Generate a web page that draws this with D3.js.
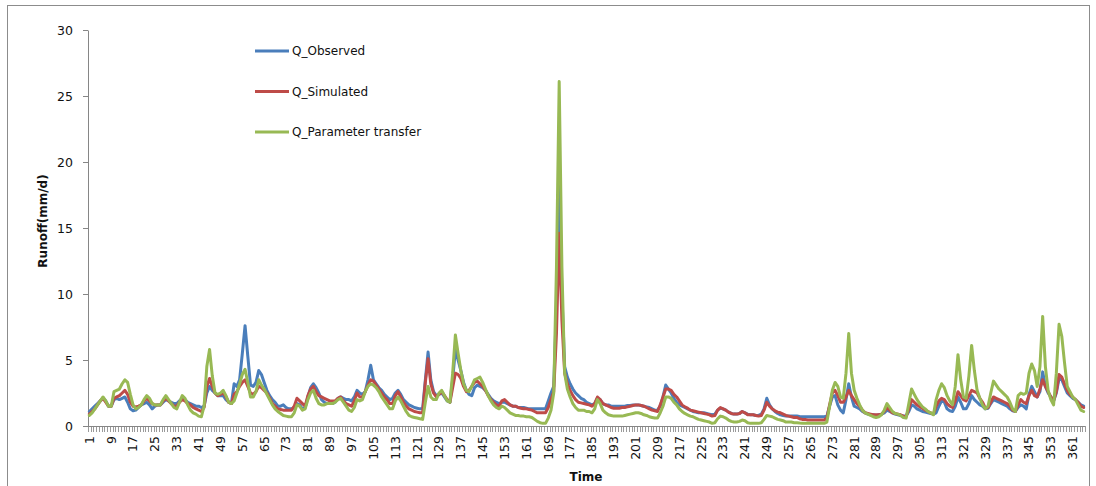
<!DOCTYPE html>
<html>
<head>
<meta charset="utf-8">
<script src="https://cdn.jsdelivr.net/npm/d3@7"></script>
<style>
  body { margin: 0; background: #fff; }
  svg { display: block; }
</style>
</head>
<body>
<div id="chart"></div>
<script>
// daily runoff (mm/d), days 1..365
const observed = [
  1.1,1.3,1.5,1.7,1.9,2.1,1.9,1.5,1.5,2.0,
  2.1,2.0,2.1,2.2,1.8,1.3,1.15,1.2,1.4,1.6,
  1.7,1.8,1.6,1.3,1.5,1.6,1.6,1.8,2.0,1.9,
  1.8,1.7,1.7,1.9,2.1,2.0,1.8,1.7,1.6,1.5,
  1.5,1.4,1.5,2.5,3.0,2.7,2.5,2.3,2.3,2.3,
  2.0,1.8,1.7,3.2,3.0,3.5,5.5,7.6,5.3,3.1,
  3.0,3.3,4.2,3.9,3.3,2.7,2.3,2.0,1.8,1.5,
  1.5,1.6,1.4,1.3,1.3,1.4,1.7,1.6,1.3,1.4,
  2.2,2.9,3.2,2.9,2.5,2.0,1.8,1.7,1.7,1.7,
  1.8,2.1,2.2,2.1,2.0,2.0,1.9,2.2,2.7,2.5,
  2.4,2.6,3.5,4.6,3.5,3.2,2.9,2.7,2.4,2.2,
  2.0,2.1,2.5,2.7,2.4,2.0,1.8,1.6,1.5,1.4,
  1.35,1.3,1.3,3.5,5.6,3.5,2.6,2.3,2.4,2.5,
  2.2,1.9,1.8,3.5,5.8,5.0,4.2,3.3,2.7,2.4,
  2.3,2.9,3.1,3.0,2.9,2.7,2.4,2.1,1.9,1.8,
  1.7,1.8,1.8,1.7,1.6,1.5,1.5,1.4,1.4,1.4,
  1.35,1.3,1.3,1.3,1.3,1.3,1.3,1.3,1.9,2.5,
  3.0,9.0,19.0,10.0,4.5,3.7,3.2,2.8,2.5,2.3,
  2.1,2.0,1.8,1.7,1.6,1.7,2.1,2.0,1.7,1.6,
  1.6,1.5,1.5,1.5,1.5,1.5,1.5,1.55,1.55,1.6,
  1.6,1.6,1.55,1.5,1.45,1.4,1.3,1.2,1.2,1.5,
  2.2,3.1,2.8,2.5,2.1,1.8,1.6,1.5,1.4,1.3,
  1.2,1.1,1.05,1.0,1.0,1.0,0.95,0.9,0.85,0.9,
  1.2,1.35,1.3,1.2,1.05,0.95,0.9,0.9,0.95,1.1,
  1.0,0.9,0.85,0.85,0.8,0.8,0.9,1.3,2.1,1.6,
  1.3,1.1,0.95,0.85,0.8,0.75,0.75,0.75,0.75,0.75,
  0.72,0.7,0.7,0.7,0.7,0.7,0.7,0.7,0.7,0.7,
  0.75,1.5,2.2,2.3,1.6,1.2,1.0,2.0,3.2,2.2,
  1.5,1.4,1.3,1.1,1.0,0.9,0.85,0.85,0.8,0.85,
  0.9,1.0,1.2,1.1,1.0,0.9,0.85,0.8,0.75,0.75,
  1.1,1.6,1.5,1.3,1.2,1.1,1.05,1.0,0.95,0.9,
  1.0,1.5,1.9,1.8,1.3,1.15,1.1,1.5,2.2,1.8,
  1.3,1.3,1.7,2.3,2.0,1.8,1.6,1.5,1.3,1.35,
  1.7,2.0,1.9,1.8,1.7,1.6,1.5,1.3,1.15,1.1,
  1.4,1.6,1.5,1.3,2.4,3.0,2.6,2.2,2.6,4.1,
  3.0,2.5,2.2,1.9,2.5,3.6,3.5,3.0,2.5,2.3,
  2.1,2.0,1.8,1.6,1.5
];

const simulated = [
  0.9,1.1,1.3,1.6,1.9,2.1,1.8,1.5,1.5,2.1,
  2.2,2.3,2.5,2.7,2.4,1.8,1.5,1.45,1.5,1.6,
  1.9,2.1,1.9,1.7,1.6,1.6,1.6,1.9,2.1,1.9,
  1.7,1.5,1.5,1.8,2.0,1.9,1.7,1.6,1.4,1.3,
  1.2,1.1,1.4,3.0,3.6,3.0,2.5,2.3,2.4,2.5,
  2.2,1.8,1.7,2.4,2.6,3.0,3.3,3.5,3.0,2.5,
  2.4,2.6,3.0,2.9,2.7,2.5,2.1,1.7,1.5,1.3,
  1.25,1.2,1.2,1.2,1.2,1.5,2.1,1.9,1.7,1.5,
  2.3,2.8,3.0,2.6,2.3,2.2,2.1,2.0,1.9,1.9,
  1.9,2.1,2.2,1.9,1.7,1.6,1.5,1.9,2.5,2.2,
  2.2,2.6,3.1,3.5,3.4,3.1,2.8,2.5,2.2,2.0,
  1.7,1.7,2.3,2.6,2.2,1.8,1.5,1.3,1.2,1.1,
  1.05,1.0,1.0,3.3,5.1,3.2,2.5,2.2,2.4,2.6,
  2.3,2.0,1.8,2.9,4.0,3.9,3.6,3.0,2.6,2.7,
  3.0,3.3,3.4,3.2,3.0,2.7,2.3,2.0,1.8,1.6,
  1.5,1.9,2.0,1.8,1.6,1.5,1.5,1.4,1.35,1.3,
  1.3,1.25,1.2,1.1,1.0,1.0,1.0,1.0,1.4,2.0,
  2.6,7.0,14.6,8.0,4.0,3.2,2.7,2.3,2.0,1.8,
  1.75,1.7,1.65,1.6,1.5,1.7,2.2,2.0,1.7,1.6,
  1.5,1.4,1.35,1.35,1.35,1.4,1.4,1.45,1.5,1.55,
  1.6,1.6,1.55,1.5,1.4,1.3,1.2,1.15,1.1,1.6,
  2.2,2.8,2.8,2.7,2.4,2.2,1.9,1.6,1.45,1.35,
  1.2,1.15,1.1,1.05,1.0,0.95,0.9,0.85,0.75,0.8,
  1.2,1.4,1.3,1.2,1.05,0.95,0.9,0.9,0.95,1.1,
  1.0,0.85,0.85,0.85,0.8,0.75,0.8,1.2,1.8,1.5,
  1.3,1.15,1.05,1.0,0.9,0.8,0.75,0.7,0.65,0.65,
  0.55,0.5,0.5,0.45,0.45,0.45,0.45,0.45,0.45,0.45,
  0.6,1.6,2.5,2.7,2.3,1.8,1.8,2.2,2.7,2.3,
  2.0,1.7,1.5,1.2,1.0,0.95,0.9,0.85,0.85,0.85,
  0.9,1.1,1.4,1.2,1.0,0.95,0.9,0.85,0.75,0.7,
  1.3,2.0,1.8,1.6,1.45,1.35,1.2,1.1,1.0,0.9,
  1.5,1.9,2.1,2.0,1.7,1.5,1.4,1.9,2.6,2.3,
  2.0,1.9,2.3,2.7,2.6,2.5,2.1,1.8,1.35,1.4,
  1.8,2.2,2.1,2.0,1.9,1.8,1.7,1.5,1.2,1.1,
  1.6,2.0,1.8,1.7,2.3,2.7,2.3,2.2,2.8,3.5,
  3.0,2.6,2.2,1.9,2.6,3.9,3.7,3.2,2.7,2.4,
  2.2,2.0,1.8,1.5,1.4
];

const transfer = [
  0.8,1.0,1.3,1.6,1.9,2.2,1.9,1.5,1.5,2.6,
  2.7,2.8,3.2,3.5,3.3,2.4,1.6,1.3,1.4,1.6,
  2.0,2.3,2.1,1.7,1.6,1.6,1.6,2.0,2.3,2.0,
  1.7,1.4,1.3,1.8,2.3,2.1,1.6,1.2,1.0,0.9,
  0.75,0.7,1.5,4.5,5.8,3.8,2.5,2.4,2.5,2.7,
  2.3,1.8,1.7,1.9,2.5,3.2,3.9,4.3,3.3,2.2,
  2.2,2.6,3.5,3.1,2.8,2.4,2.0,1.6,1.3,1.1,
  0.95,0.8,0.75,0.7,0.7,1.0,1.6,1.5,1.2,1.3,
  2.0,2.5,2.7,2.1,1.7,1.6,1.6,1.7,1.7,1.7,
  1.8,2.0,2.1,1.8,1.5,1.2,1.1,1.4,2.0,1.9,
  2.0,2.6,3.0,3.2,3.1,2.9,2.6,2.2,1.9,1.6,
  1.3,1.3,1.9,2.2,1.9,1.5,1.1,0.8,0.7,0.65,
  0.6,0.55,0.5,1.8,3.0,2.2,2.0,2.0,2.5,2.7,
  2.3,1.9,1.8,4.0,6.9,5.5,4.2,3.2,2.7,2.6,
  3.0,3.5,3.6,3.7,3.3,2.8,2.3,1.9,1.6,1.4,
  1.3,1.5,1.4,1.2,1.0,0.9,0.8,0.8,0.75,0.75,
  0.7,0.7,0.65,0.5,0.35,0.25,0.2,0.2,0.6,1.2,
  2.5,12.0,26.1,12.0,4.0,2.8,2.2,1.7,1.4,1.2,
  1.2,1.2,1.1,1.1,1.0,1.3,2.0,1.7,1.2,1.0,
  0.85,0.8,0.75,0.75,0.75,0.75,0.8,0.85,0.9,0.95,
  1.0,1.0,0.95,0.85,0.8,0.7,0.65,0.6,0.6,1.0,
  1.5,2.2,2.2,2.1,1.8,1.6,1.3,1.1,0.95,0.85,
  0.75,0.7,0.6,0.5,0.45,0.4,0.35,0.3,0.2,0.25,
  0.55,0.75,0.7,0.6,0.45,0.35,0.3,0.3,0.35,0.45,
  0.4,0.25,0.2,0.2,0.2,0.2,0.25,0.5,0.8,0.75,
  0.7,0.6,0.5,0.45,0.4,0.3,0.3,0.3,0.25,0.25,
  0.22,0.2,0.2,0.2,0.2,0.2,0.2,0.2,0.2,0.2,
  0.3,1.5,2.7,3.3,3.0,2.2,2.1,4.0,7.0,4.0,
  2.7,2.1,1.6,1.2,1.0,0.9,0.8,0.7,0.65,0.7,
  0.85,1.2,1.7,1.4,1.1,0.95,0.9,0.8,0.65,0.6,
  1.7,2.8,2.4,2.0,1.7,1.45,1.3,1.1,1.0,0.85,
  2.0,2.7,3.2,2.9,2.3,1.9,1.6,3.0,5.4,3.5,
  2.2,2.1,3.8,6.1,4.2,2.7,2.1,1.6,1.3,1.5,
  2.5,3.4,3.1,2.8,2.6,2.4,2.2,1.8,1.3,1.1,
  2.3,2.5,2.4,2.5,4.0,4.7,4.2,3.0,4.5,8.3,
  4.5,2.7,2.0,1.6,4.0,7.7,6.8,4.8,3.0,2.6,
  2.2,2.0,1.6,1.2,1.1
];

const days = d3.range(1, observed.length + 1);
const yTicks = [0, 5, 10, 15, 20, 25, 30];
const seriesNames = ["Q_Observed", "Q_Simulated", "Q_Parameter transfer"];
const seriesColors = ["#4a7ebb", "#be4b48", "#98b954"];

const width = 1096, height = 486;
const margin = { top: 30, right: 11, bottom: 60, left: 88 };
const font = "'DejaVu Sans', Verdana, sans-serif";

const svg = d3.select("#chart").append("svg")
  .attr("width", width)
  .attr("height", height);

// outer chart frame
svg.append("rect")
  .attr("x", 7.5).attr("y", 5.5)
  .attr("width", 1082).attr("height", 490)
  .attr("fill", "none")
  .attr("stroke", "#8c8c8c")
  .attr("stroke-width", 1);

const x = d3.scaleBand()
  .domain(days)
  .range([margin.left, width - margin.right])
  .paddingInner(0).paddingOuter(0);

const y = d3.scaleLinear()
  .domain([0, 30])
  .range([height - margin.bottom, margin.top]);

const y0 = y(0);

// y axis
const yAxis = svg.append("g")
  .attr("transform", `translate(${margin.left},0)`)
  .call(d3.axisLeft(y).tickValues(yTicks).tickSize(5).tickPadding(10).tickSizeOuter(0));
yAxis.select(".domain").attr("stroke", "#868686");
yAxis.selectAll(".tick line").attr("stroke", "#868686");
yAxis.selectAll("text")
  .attr("font-family", font)
  .attr("font-size", "12.5px")
  .attr("fill", "#111");

// x axis: comb ticks at every category boundary
const xAxis = svg.append("g").attr("class", "x-axis");
const bounds = days.map(d => x(d)).concat([x(days[days.length - 1]) + x.bandwidth()]);
xAxis.selectAll("line.tk")
  .data(bounds)
  .join("line")
  .attr("class", "tk")
  .attr("x1", d => Math.round(d) + 0.5)
  .attr("x2", d => Math.round(d) + 0.5)
  .attr("y1", y0)
  .attr("y2", y0 + 6)
  .attr("stroke", "#9a9a9a")
  .attr("stroke-width", 1);
xAxis.append("line")
  .attr("x1", margin.left).attr("x2", width - margin.right)
  .attr("y1", y0 + 0.5).attr("y2", y0 + 0.5)
  .attr("stroke", "#868686");

const labelDays = days.filter(d => (d - 1) % 8 === 0);
xAxis.selectAll("text.lbl")
  .data(labelDays)
  .join("text")
  .attr("class", "lbl")
  .attr("transform", d => `translate(${x(d) + x.bandwidth() / 2},${y0 + 10}) rotate(-90)`)
  .attr("text-anchor", "end")
  .attr("dy", "0.35em")
  .attr("font-family", font)
  .attr("font-size", "12.5px")
  .attr("fill", "#111")
  .text(d => d);

// series lines
const line = d3.line()
  .x((d, i) => x(days[i]) + x.bandwidth() / 2)
  .y(d => y(d));

[observed, simulated, transfer].forEach((s, k) => {
  svg.append("path")
    .datum(s)
    .attr("d", line)
    .attr("fill", "none")
    .attr("stroke", seriesColors[k])
    .attr("stroke-width", 3)
    .attr("stroke-linejoin", "round")
    .attr("stroke-linecap", "round");
});

// legend
const legend = svg.append("g").attr("transform", "translate(255,51)");
seriesNames.forEach((name, k) => {
  const g = legend.append("g").attr("transform", `translate(0,${k * 40.5})`);
  g.append("line")
    .attr("x1", 0).attr("x2", 34)
    .attr("stroke", seriesColors[k])
    .attr("stroke-width", 3);
  g.append("text")
    .attr("x", 37)
    .attr("dy", "0.35em")
    .attr("font-family", font)
    .attr("font-size", "12px")
    .attr("fill", "#111")
    .text(name);
});

// axis titles
svg.append("text")
  .attr("transform", "translate(43,221) rotate(-90)")
  .attr("text-anchor", "middle")
  .attr("dy", "0.35em")
  .attr("font-family", font)
  .attr("font-size", "12px")
  .attr("font-weight", "bold")
  .attr("fill", "#111")
  .text("Runoff(mm/d)");

svg.append("text")
  .attr("x", 586)
  .attr("y", 481)
  .attr("text-anchor", "middle")
  .attr("font-family", font)
  .attr("font-size", "12px")
  .attr("font-weight", "bold")
  .attr("fill", "#111")
  .text("Time");
</script>
</body>
</html>
